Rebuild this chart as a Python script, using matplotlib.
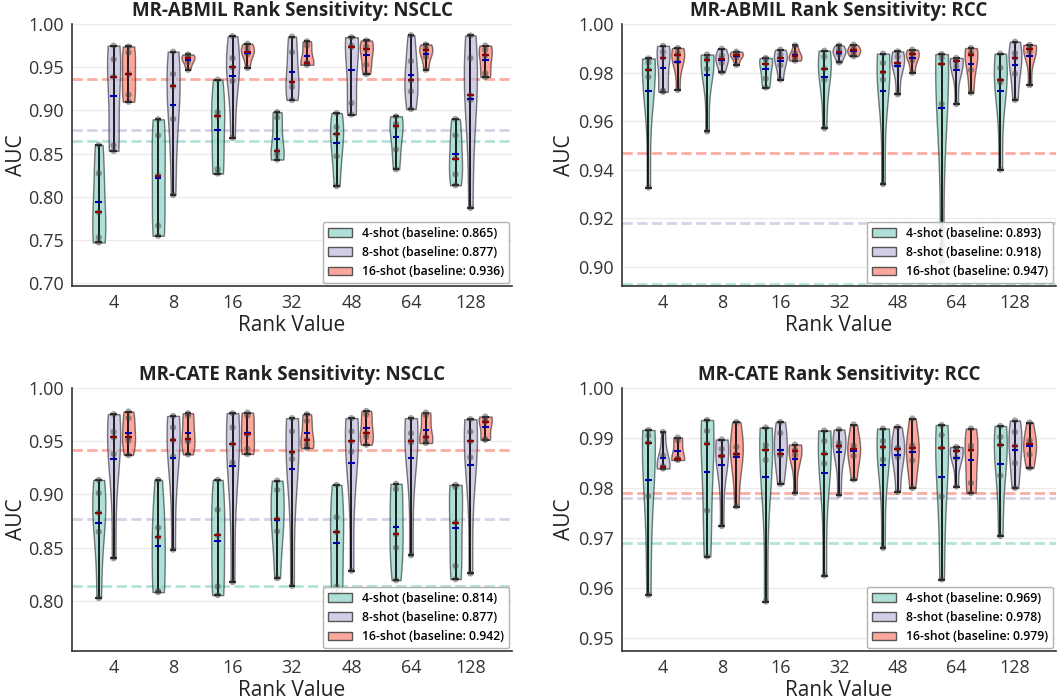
import matplotlib
matplotlib.use('Agg')
import matplotlib.pyplot as plt
import numpy as np
from matplotlib.patches import Patch
from matplotlib.colors import to_rgba

plt.rcParams['font.family'] = ['Open Sans', 'DejaVu Sans']

ranks = ['4', '8', '16', '32', '48', '64', '128']
shots = ['4-shot', '8-shot', '16-shot']
colors = ['#8dd3c7', '#bebada', '#fb8072']

# ---------------- MR-ABMIL NSCLC ----------------
abmil_nsclc_4 = [[0.860, 0.827, 0.782, 0.753, 0.747],
                 [0.8896, 0.8711, 0.8245, 0.7663, 0.7547],
                 [0.9355, 0.898, 0.8934, 0.832, 0.8268],
                 [0.898, 0.8916, 0.853, 0.849, 0.843],
                 [0.8969, 0.8807, 0.8726, 0.8468, 0.8122],
                 [0.8931, 0.8846, 0.8815, 0.8546, 0.8318],
                 [0.890, 0.8711, 0.8442, 0.826, 0.8133]]
abmil_nsclc_8 = [[0.975, 0.959, 0.939, 0.8595, 0.853],
                 [0.968, 0.942, 0.928, 0.890, 0.802],
                 [0.9859, 0.9605, 0.9497, 0.934, 0.868],
                 [0.9855, 0.9674, 0.9327, 0.927, 0.912],
                 [0.9847, 0.975, 0.9732, 0.9085, 0.895],
                 [0.987, 0.957, 0.9347, 0.922, 0.9015],
                 [0.9867, 0.9605, 0.9173, 0.912, 0.787]]
abmil_nsclc_16 = [[0.974, 0.967, 0.942, 0.918, 0.910],
                  [0.9647, 0.962, 0.9605, 0.956, 0.947],
                  [0.9771, 0.972, 0.9674, 0.965, 0.949],
                  [0.980, 0.975, 0.955, 0.9545, 0.9528],
                  [0.9809, 0.974, 0.9705, 0.9528, 0.942],
                  [0.9763, 0.972, 0.9694, 0.962, 0.947],
                  [0.9751, 0.970, 0.9636, 0.943, 0.9385]]
abmil_nsclc_base = [0.865, 0.877, 0.936]

# ---------------- MR-ABMIL RCC ----------------
abmil_rcc_4 = [[0.9858, 0.984, 0.9812, 0.9782, 0.9326],
               [0.9874, 0.986, 0.985, 0.9815, 0.9557],
               [0.986, 0.9855, 0.9836, 0.9775, 0.9738],
               [0.989, 0.9865, 0.9816, 0.977, 0.957],
               [0.9878, 0.9839, 0.9801, 0.977, 0.934],
               [0.9876, 0.986, 0.9836, 0.967, 0.9018],
               [0.9878, 0.9819, 0.9769, 0.976, 0.940]]
abmil_rcc_8 = [[0.991, 0.9885, 0.9861, 0.9725, 0.972],
               [0.9898, 0.987, 0.9857, 0.984, 0.9801],
               [0.9894, 0.9875, 0.986, 0.983, 0.9771],
               [0.9912, 0.9895, 0.9883, 0.9875, 0.9842],
               [0.9887, 0.9865, 0.9838, 0.983, 0.971],
               [0.986, 0.985, 0.9846, 0.9825, 0.967],
               [0.9927, 0.988, 0.986, 0.9795, 0.9687]]
abmil_rcc_16 = [[0.9901, 0.988, 0.9871, 0.9845, 0.9728],
                [0.9886, 0.988, 0.9872, 0.9862, 0.9831],
                [0.9912, 0.988, 0.9868, 0.9855, 0.9849],
                [0.9915, 0.990, 0.9891, 0.988, 0.9867],
                [0.9894, 0.988, 0.9875, 0.985, 0.9799],
                [0.9901, 0.988, 0.9874, 0.981, 0.9717],
                [0.9914, 0.990, 0.9898, 0.9885, 0.9748]]
abmil_rcc_base = [0.893, 0.918, 0.947]

# ---------------- MR-CATE NSCLC ----------------
cate_nsclc_4 = [[0.9137, 0.9012, 0.8828, 0.865, 0.8027],
                [0.9137, 0.8688, 0.860, 0.8095, 0.8083],
                [0.9137, 0.8856, 0.8616, 0.8136, 0.8055],
                [0.913, 0.9043, 0.8769, 0.8654, 0.8214],
                [0.909, 0.8787, 0.8647, 0.8133, 0.8063],
                [0.910, 0.905, 0.8626, 0.850, 0.8195],
                [0.909, 0.907, 0.8735, 0.8329, 0.8205]]
cate_nsclc_8 = [[0.9754, 0.9589, 0.9536, 0.938, 0.840],
                [0.9738, 0.9629, 0.9511, 0.9355, 0.8482],
                [0.9763, 0.9629, 0.9474, 0.930, 0.8177],
                [0.9717, 0.9592, 0.9395, 0.9333, 0.8142],
                [0.9717, 0.9592, 0.9498, 0.9402, 0.8283],
                [0.9717, 0.9575, 0.9504, 0.949, 0.8429],
                [0.9707, 0.9589, 0.9498, 0.9348, 0.8258]]
cate_nsclc_16 = [[0.9779, 0.9717, 0.9536, 0.9505, 0.937],
                 [0.9763, 0.974, 0.9517, 0.9499, 0.9376],
                 [0.9769, 0.974, 0.9567, 0.9427, 0.938],
                 [0.9754, 0.9691, 0.9514, 0.947, 0.9436],
                 [0.9785, 0.975, 0.9573, 0.954, 0.9467],
                 [0.9769, 0.9745, 0.9542, 0.951, 0.9483],
                 [0.9732, 0.970, 0.9682, 0.952, 0.9514]]
cate_nsclc_base = [0.814, 0.877, 0.942]

# ---------------- MR-CATE RCC ----------------
cate_rcc_4 = [[0.9916, 0.9905, 0.9891, 0.9784, 0.9586],
              [0.9936, 0.9914, 0.9889, 0.9755, 0.9663],
              [0.9921, 0.9886, 0.9877, 0.9856, 0.9573],
              [0.9915, 0.9894, 0.9869, 0.9849, 0.9625],
              [0.9919, 0.9894, 0.9882, 0.9857, 0.968],
              [0.9926, 0.9906, 0.988, 0.9783, 0.9617],
              [0.9924, 0.9902, 0.9886, 0.9825, 0.9704]]
cate_rcc_8 = [[0.9912, 0.9865, 0.9843, 0.9841, 0.9839],
              [0.9897, 0.9878, 0.9864, 0.9864, 0.9724],
              [0.9932, 0.991, 0.9868, 0.9865, 0.9808],
              [0.9917, 0.989, 0.9884, 0.9883, 0.9786],
              [0.9922, 0.988, 0.9878, 0.9862, 0.9792],
              [0.9882, 0.9877, 0.9874, 0.986, 0.9803],
              [0.9935, 0.9912, 0.9884, 0.985, 0.980]]
cate_rcc_16 = [[0.9901, 0.9895, 0.9859, 0.9858, 0.9856],
               [0.9932, 0.9882, 0.9868, 0.9865, 0.9763],
               [0.9887, 0.9876, 0.9874, 0.9866, 0.979],
               [0.9927, 0.9885, 0.9878, 0.9864, 0.9817],
               [0.9939, 0.9885, 0.988, 0.9855, 0.980],
               [0.9919, 0.9885, 0.9877, 0.981, 0.979],
               [0.9931, 0.9895, 0.9889, 0.9867, 0.984]]
cate_rcc_base = [0.969, 0.978, 0.979]

panels = [
    ("MR-ABMIL Rank Sensitivity: NSCLC", [abmil_nsclc_4, abmil_nsclc_8, abmil_nsclc_16],
     abmil_nsclc_base, (0.6966, 1.0), np.arange(0.70, 1.001, 0.05), '{:.2f}'),
    ("MR-ABMIL Rank Sensitivity: RCC", [abmil_rcc_4, abmil_rcc_8, abmil_rcc_16],
     abmil_rcc_base, (0.892, 1.0), np.arange(0.90, 1.001, 0.02), '{:.2f}'),
    ("MR-CATE Rank Sensitivity: NSCLC", [cate_nsclc_4, cate_nsclc_8, cate_nsclc_16],
     cate_nsclc_base, (0.753, 1.0), np.arange(0.80, 1.001, 0.05), '{:.2f}'),
    ("MR-CATE Rank Sensitivity: RCC", [cate_rcc_4, cate_rcc_8, cate_rcc_16],
     cate_rcc_base, (0.9474, 1.0), np.arange(0.95, 1.001, 0.01), '{:.2f}'),
]

W, H = 1058, 700
fig = plt.figure(figsize=(W / 100, H / 100), dpi=100)
rects = [
    [72 / W, 1 - 286 / H, 440 / W, 262 / H],
    [622 / W, 1 - 286 / H, 434 / W, 262 / H],
    [72 / W, 1 - 651 / H, 440 / W, 263 / H],
    [622 / W, 1 - 651 / H, 434 / W, 263 / H],
]
# x of the right edge of the rotated "AUC" label, in axes coordinates
ylabel_x = [(27 - 72) / 440, (575 - 622) / 434, (27 - 72) / 440, (575 - 622) / 434]

x = np.arange(len(ranks))
vw = 0.22
for rect, lx, (title, groups, base, ylim, yt, fmt) in zip(rects, ylabel_x, panels):
    ax = fig.add_axes(rect)
    for j, (data, col) in enumerate(zip(groups, colors)):
        pos = x + (j - 1) * 0.25
        vp = ax.violinplot(data, positions=pos, widths=vw, showmeans=True,
                           showmedians=True, showextrema=True)
        for b in vp['bodies']:
            b.set_alpha(None)
            b.set_facecolor(to_rgba(col, 0.7))
            b.set_edgecolor((0, 0, 0, 0.5))
            b.set_linewidth(1.0)
            b.set_zorder(2)
        for key in ['cbars', 'cmins', 'cmaxes']:
            vp[key].set_color('black')
            vp[key].set_linewidth(1.2)
            vp[key].set_zorder(3)
        vp['cmeans'].set_color('#0000b0')
        vp['cmeans'].set_linewidth(1.5)
        vp['cmeans'].set_zorder(4)
        vp['cmedians'].set_color('#8b0000')
        vp['cmedians'].set_linewidth(1.5)
        vp['cmedians'].set_zorder(4)
        for p, vals in zip(pos, data):
            ax.scatter([p] * len(vals), vals, s=20, color='#444444', alpha=0.5,
                       edgecolors='none', zorder=3.5)
        ax.axhline(base[j], color=col, ls='--', lw=2, alpha=0.65, zorder=1)

    handles = [Patch(facecolor=to_rgba(c, 0.7), edgecolor='#555555', linewidth=1) for c in colors]
    labels = [f'{s} (baseline: {b:.3f})' for s, b in zip(shots, base)]
    leg = ax.legend(handles, labels, loc='lower right',
                    prop={'weight': 'semibold', 'size': 8.8}, frameon=True,
                    borderaxespad=0.25, framealpha=0.9, edgecolor='#aaaaaa')
    leg.set_zorder(10)

    ax.set_xlim(-0.7, 6.7)
    ax.set_ylim(*ylim)
    ax.set_xticks(x)
    ax.set_xticklabels(ranks)
    ax.set_yticks(yt)
    ax.set_yticklabels([fmt.format(v) for v in yt])
    ax.yaxis.grid(True, color='#ececec', lw=1)
    ax.xaxis.grid(False)
    ax.set_axisbelow(True)
    for s in ['top', 'right']:
        ax.spines[s].set_visible(False)
    for s in ['left', 'bottom']:
        ax.spines[s].set_color('#333333')
        ax.spines[s].set_linewidth(1.2)
    ax.tick_params(axis='both', length=0, labelsize=13, colors='#333333', pad=6)
    ax.set_title(title, fontsize=13.5, fontweight='bold', color='#222222', pad=6)
    ax.set_xlabel('Rank Value', fontsize=15, color='#222222', labelpad=2)
    ax.set_ylabel('AUC', fontsize=15, color='#222222')
    ax.yaxis.set_label_coords(lx, 0.5)

fig.savefig('out.png', dpi=100)
